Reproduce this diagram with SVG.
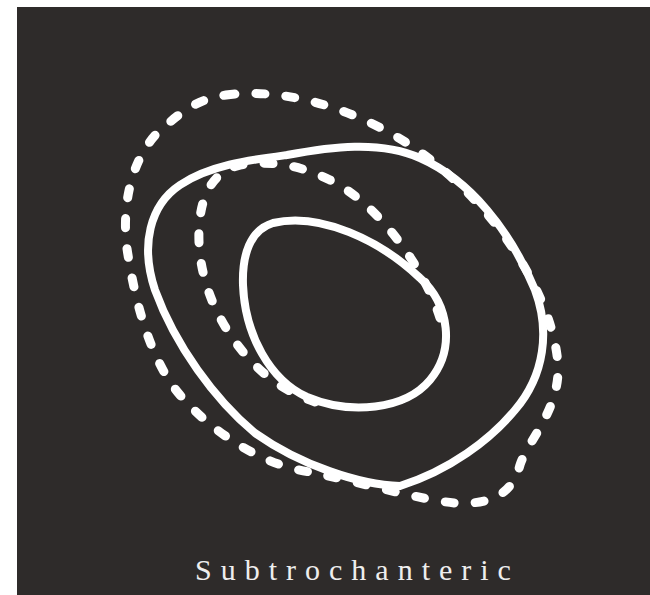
<svg xmlns="http://www.w3.org/2000/svg" width="650" height="595" viewBox="0 0 650 595">
  <style>
    .solid { fill: none; stroke: #ffffff; stroke-width: 8; stroke-linejoin: round; stroke-linecap: round; }
    .dash { fill: none; stroke: #ffffff; stroke-width: 9; stroke-linecap: round; stroke-dasharray: 9 21; }
    .label { font-family: "Liberation Serif", "Times New Roman", serif; font-size: 30px; fill: #eeeeee; letter-spacing: 9px; }
  </style>
  <rect x="0" y="0" width="650" height="595" fill="#ffffff"/>
  <rect x="17" y="7" width="633" height="588" fill="#2e2b2a"/>
  <g id="outer-dashed">
    <path class="dash" d="M 226,95 C 280,88 340,105 390,133 C 430,155 470,190 500,230 C 530,270 555,320 558,365 C 560,410 528,440 520,465 C 512,495 490,505 455,503 C 420,500 360,482 310,472 C 260,465 210,430 180,395 C 150,360 135,300 128,255 C 120,210 130,150 170,122 C 190,105 205,98 226,95 Z"/>
  </g>
  <g id="outer-solid">
    <path class="solid" d="M 287,155 C 330,147 380,140 420,158 C 470,180 510,230 535,290 C 550,330 545,375 515,410 C 490,440 450,470 400,486 C 360,485 300,465 255,433 C 215,400 175,345 155,290 C 140,245 150,205 180,185 C 210,165 250,160 287,155 Z"/>
  </g>
  <g id="inner-dashed">
    <path class="dash" d="M 440,318 C 425,270 380,205 330,180 C 300,165 270,160 240,165 C 210,172 200,200 199,230 C 197,280 220,330 255,365 C 275,385 295,395 315,402"/>
  </g>
  <g id="inner-solid">
    <path class="solid" d="M 273,223 C 320,212 380,240 420,278 C 450,305 455,350 430,380 C 405,410 350,415 307,397 C 270,380 245,335 243,285 C 242,255 250,230 273,223 Z"/>
  </g>
  <text class="label" x="195" y="580">Subtrochanteric</text>
</svg>
